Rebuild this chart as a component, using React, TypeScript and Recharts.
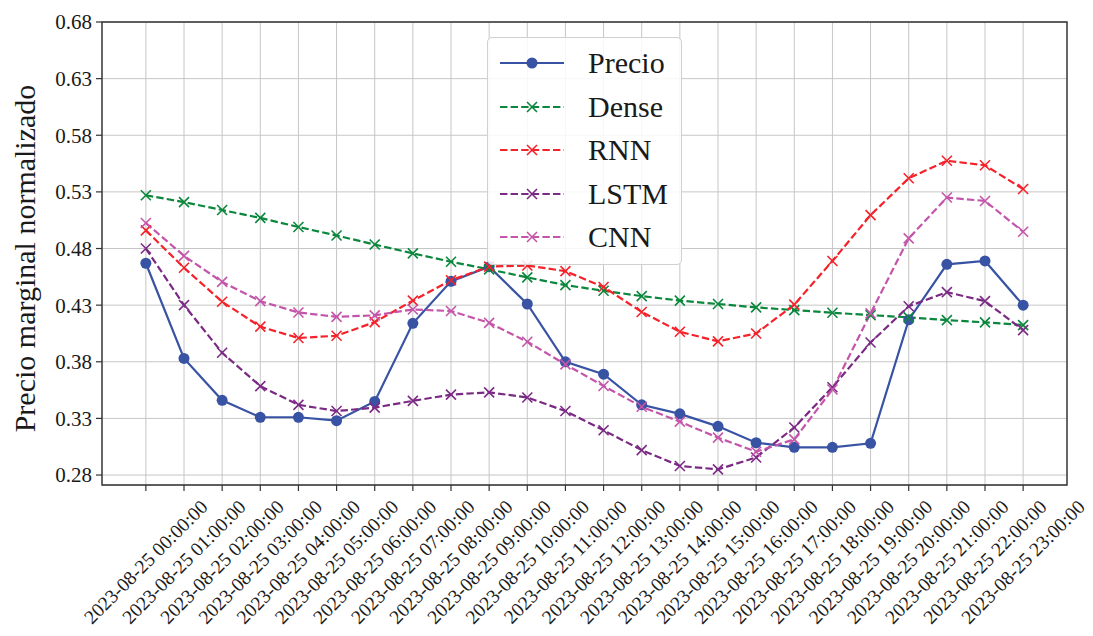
import React from "react";
import {
  LineChart,
  Line,
  XAxis,
  YAxis,
  CartesianGrid,
  ReferenceArea,
  Legend,
} from "recharts";

const hours = [
  "2023-08-25 00:00:00", "2023-08-25 01:00:00", "2023-08-25 02:00:00", "2023-08-25 03:00:00",
  "2023-08-25 04:00:00", "2023-08-25 05:00:00", "2023-08-25 06:00:00", "2023-08-25 07:00:00",
  "2023-08-25 08:00:00", "2023-08-25 09:00:00", "2023-08-25 10:00:00", "2023-08-25 11:00:00",
  "2023-08-25 12:00:00", "2023-08-25 13:00:00", "2023-08-25 14:00:00", "2023-08-25 15:00:00",
  "2023-08-25 16:00:00", "2023-08-25 17:00:00", "2023-08-25 18:00:00", "2023-08-25 19:00:00",
  "2023-08-25 20:00:00", "2023-08-25 21:00:00", "2023-08-25 22:00:00", "2023-08-25 23:00:00",
];

const precio = [
  0.467, 0.383, 0.346, 0.331, 0.331, 0.328, 0.345, 0.414, 0.451, 0.464, 0.431, 0.38,
  0.369, 0.342, 0.334, 0.323, 0.3085, 0.3045, 0.3045, 0.308, 0.417, 0.466, 0.469, 0.43,
];
const dense = [
  0.527, 0.521, 0.514, 0.507, 0.499, 0.4915, 0.4835, 0.4757, 0.4683, 0.4616, 0.4545, 0.4477,
  0.4427, 0.438, 0.434, 0.431, 0.428, 0.4256, 0.4233, 0.4212, 0.4192, 0.4168, 0.4148, 0.4124,
];
const rnn = [
  0.496, 0.463, 0.433, 0.411, 0.401, 0.403, 0.415, 0.434, 0.452, 0.464, 0.465, 0.46,
  0.446, 0.424, 0.4065, 0.398, 0.405, 0.4305, 0.469, 0.5095, 0.542, 0.5575, 0.5535, 0.5325,
];
const lstm = [
  0.48, 0.43, 0.388, 0.3585, 0.342, 0.3365, 0.3395, 0.3455, 0.351, 0.353, 0.3485, 0.3365,
  0.3195, 0.302, 0.288, 0.285, 0.2955, 0.322, 0.3575, 0.397, 0.429, 0.4415, 0.4335, 0.408,
];
const cnn = [
  0.5025, 0.4735, 0.4505, 0.4335, 0.4235, 0.4197, 0.421, 0.4262, 0.4248, 0.4144, 0.3977, 0.3777,
  0.3586, 0.3403, 0.3271, 0.313, 0.3006, 0.3115, 0.3555, 0.4227, 0.489, 0.525, 0.522, 0.4948,
];

const yTicks = [0.28, 0.33, 0.38, 0.43, 0.48, 0.53, 0.58, 0.63, 0.68];
const xTicks = hours.map((_, i) => i);

const data = hours.map((h, i) => ({
  i,
  hour: h,
  Precio: precio[i],
  Dense: dense[i],
  RNN: rnn[i],
  LSTM: lstm[i],
  CNN: cnn[i],
}));

const COLORS = {
  Precio: "#3953a4",
  Dense: "#0a873c",
  RNN: "#f5222a",
  LSTM: "#7b2a84",
  CNN: "#c455aa",
};

const FONT = "'Liberation Serif', 'DejaVu Serif', serif";
const X_MIN = -1.15;
const X_MAX = 24.15;
const Y_MIN = 0.2712;
const Y_MAX = 0.68;
const DASH = "7.4 3.2";

function crossDot(color: string) {
  return (props: any) => {
    const { cx, cy, index } = props;
    if (cx == null || cy == null) return <g key={`n-${index}`} />;
    const r = 5;
    return (
      <g key={`x-${index}`}>
        <line x1={cx - r} y1={cy - r} x2={cx + r} y2={cy + r} stroke={color} strokeWidth={1.6} />
        <line x1={cx - r} y1={cy + r} x2={cx + r} y2={cy - r} stroke={color} strokeWidth={1.6} />
      </g>
    );
  };
}

function XTick(props: any) {
  const { x, y, payload } = props;
  const cy = y + 69;
  return (
    <text
      x={x}
      y={cy}
      textAnchor="middle"
      dominantBaseline="central"
      fontSize={19.5}
      fill="#1a1a1a"
      fontFamily={FONT}
      transform={`rotate(-45 ${x} ${cy})`}
    >
      {hours[payload.value]}
    </text>
  );
}

const legendItems = [
  { name: "Precio", color: COLORS.Precio, dashed: false },
  { name: "Dense", color: COLORS.Dense, dashed: true },
  { name: "RNN", color: COLORS.RNN, dashed: true },
  { name: "LSTM", color: COLORS.LSTM, dashed: true },
  { name: "CNN", color: COLORS.CNN, dashed: true },
];

function LegendBox() {
  return (
    <div
      style={{
        width: 195,
        height: 228,
        boxSizing: "border-box",
        background: "rgba(255,255,255,0.85)",
        border: "1px solid #d0d0d0",
        borderRadius: 5,
        position: "relative",
        fontFamily: FONT,
      }}
    >
      {legendItems.map((it, k) => (
        <div
          key={it.name}
          style={{
            position: "absolute",
            left: 0,
            top: 25 + k * 43.5 - 20,
            height: 40,
            display: "flex",
            alignItems: "center",
          }}
        >
          <svg width={100} height={40} style={{ display: "block" }}>
            <line
              x1={12}
              y1={20}
              x2={76}
              y2={20}
              stroke={it.color}
              strokeWidth={2.2}
              strokeDasharray={it.dashed ? DASH : undefined}
            />
            {it.dashed ? (
              <g>
                <line x1={39} y1={15} x2={49} y2={25} stroke={it.color} strokeWidth={1.6} />
                <line x1={39} y1={25} x2={49} y2={15} stroke={it.color} strokeWidth={1.6} />
              </g>
            ) : (
              <circle cx={44} cy={20} r={5.5} fill={it.color} />
            )}
          </svg>
          <span style={{ fontSize: 30, color: "#1a1a1a", lineHeight: "40px" }}>{it.name}</span>
        </div>
      ))}
    </div>
  );
}

function YLabel(props: any) {
  const vb = props.viewBox || { x: 0, y: 22, width: 102, height: 463 };
  const cx = 24;
  const cy = vb.y + vb.height / 2 + 5;
  return (
    <text
      x={cx}
      y={cy}
      textAnchor="middle"
      dominantBaseline="central"
      fontSize={30}
      fill="#1a1a1a"
      fontFamily={FONT}
      transform={`rotate(-90 ${cx} ${cy})`}
    >
      Precio marginal normalizado
    </text>
  );
}

export default function App() {
  return (
    <div style={{ margin: -8, width: 1093, height: 636, background: "#fff", fontFamily: FONT }}>
      <LineChart
        width={1093}
        height={636}
        data={data}
        margin={{ top: 22, right: 26, bottom: 0, left: 0 }}
        style={{ fontFamily: FONT }}
      >
        <CartesianGrid stroke="#c6c6c6" strokeWidth={1} />
        <XAxis
          dataKey="i"
          type="number"
          domain={[X_MIN, X_MAX]}
          ticks={xTicks}
          allowDataOverflow
          interval={0}
          height={151}
          axisLine={false}
          tickLine={{ stroke: "#333", strokeWidth: 1.2 }}
          tickSize={6}
          tick={<XTick />}
        />
        <YAxis
          type="number"
          domain={[Y_MIN, Y_MAX]}
          ticks={yTicks}
          allowDataOverflow
          width={102}
          axisLine={false}
          tickLine={{ stroke: "#333", strokeWidth: 1.2 }}
          tickSize={6}
          tickMargin={4}
          tickFormatter={(v: number) => v.toFixed(2)}
          tick={{ fontSize: 21, fill: "#1a1a1a", fontFamily: FONT }}
          label={<YLabel />}
        />
        <ReferenceArea
          x1={X_MIN}
          x2={X_MAX}
          y1={Y_MIN}
          y2={Y_MAX}
          fill="none"
          stroke="#333"
          strokeWidth={1.4}
          ifOverflow="visible"
        />
        <Line
          dataKey="Precio"
          stroke={COLORS.Precio}
          strokeWidth={2.2}
          dot={{ r: 5.5, fill: COLORS.Precio, stroke: COLORS.Precio, strokeWidth: 0 }}
          isAnimationActive={false}
        />
        <Line
          dataKey="Dense"
          stroke={COLORS.Dense}
          strokeWidth={2.2}
          strokeDasharray={DASH}
          dot={crossDot(COLORS.Dense)}
          isAnimationActive={false}
        />
        <Line
          dataKey="RNN"
          stroke={COLORS.RNN}
          strokeWidth={2.2}
          strokeDasharray={DASH}
          dot={crossDot(COLORS.RNN)}
          isAnimationActive={false}
        />
        <Line
          dataKey="LSTM"
          stroke={COLORS.LSTM}
          strokeWidth={2.2}
          strokeDasharray={DASH}
          dot={crossDot(COLORS.LSTM)}
          isAnimationActive={false}
        />
        <Line
          dataKey="CNN"
          stroke={COLORS.CNN}
          strokeWidth={2.2}
          strokeDasharray={DASH}
          dot={crossDot(COLORS.CNN)}
          isAnimationActive={false}
        />
        <Legend
          layout="vertical"
          align="center"
          verticalAlign="middle"
          content={<LegendBox />}
          wrapperStyle={{ position: "absolute", left: 487, top: 37, width: 195, height: 228 }}
        />
      </LineChart>
    </div>
  );
}
